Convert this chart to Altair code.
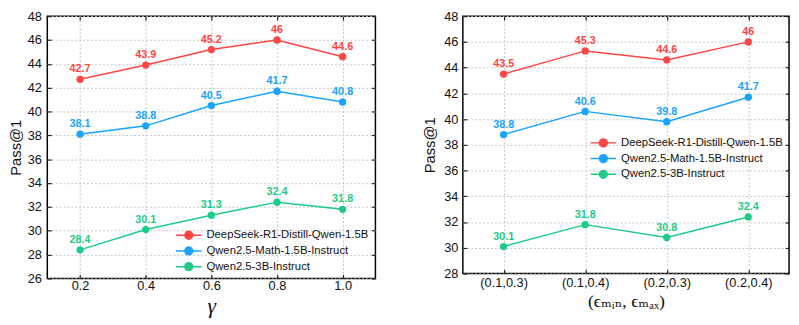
import altair as alt
import pandas as pd

# ---- data ----
models = ["DeepSeek-R1-Distill-Qwen-1.5B", "Qwen2.5-Math-1.5B-Instruct", "Qwen2.5-3B-Instruct"]
colors = ["#FF4545", "#1AA3FF", "#1FCB88"]

gamma = [0.2, 0.4, 0.6, 0.8, 1.0]
ds_gamma = [42.7, 43.9, 45.2, 46.0, 44.6]
math_gamma = [38.1, 38.8, 40.5, 41.7, 40.8]
q3b_gamma = [28.4, 30.1, 31.3, 32.4, 31.8]

eps = ["(0.1,0.3)", "(0.1,0.4)", "(0.2,0.3)", "(0.2,0.4)"]
ds_eps = [43.5, 45.3, 44.6, 46.0]
math_eps = [38.8, 40.6, 39.8, 41.7]
q3b_eps = [30.1, 31.8, 30.8, 32.4]

left_ticks = list(range(26, 49, 2))
right_ticks = list(range(28, 49, 2))


def build(xs, series, xname):
    rows = []
    for m, vals in zip(models, series):
        for xv, v in zip(xs, vals):
            rows.append({xname: xv, "value": v, "model": m, "label": f"{v:g}"})
    return pd.DataFrame(rows)


df_g = build(gamma, [ds_gamma, math_gamma, q3b_gamma], "x")
df_e = build(eps, [ds_eps, math_eps, q3b_eps], "x")

FONT = "Liberation Sans"
cscale = alt.Scale(domain=models, range=colors)
SYM = "M-1.625,0L1.625,0M-0.5,0A0.5,0.5,0,1,0,0.5,0A0.5,0.5,0,1,0,-0.5,0Z"
GRID = dict(grid=True, gridColor="#c4c4c4", gridDash=[2, 2], gridWidth=1)
TICK = dict(domain=False, tickSize=4, tickColor="#222", tickWidth=1.2, offset=-4)


def legend(lx, ly):
    return alt.Legend(
        orient="none", legendX=lx, legendY=ly, title=None,
        symbolType=SYM, symbolSize=256, symbolStrokeWidth=1.5,
        labelFont=FONT, labelFontSize=11.5, labelColor="#111", labelLimit=0,
        labelOffset=9, rowPadding=0, padding=0,
    )


def panel(df, xenc, xmirror, ydomain, yticks, w, h, lx, ly, ytitle_pad, ylabel_pad):
    ysc = alt.Scale(domain=ydomain, nice=False, zero=False)
    yax = alt.Axis(
        values=yticks, title="Pass@1", titleFont=FONT, titleFontSize=15,
        titleFontWeight="normal", titleColor="#111", titlePadding=ytitle_pad,
        labelFont=FONT, labelFontSize=13, labelColor="#111", labelPadding=ylabel_pad,
        **GRID, **TICK,
    )
    y = alt.Y("value:Q", scale=ysc, axis=yax)
    base = alt.Chart(df)
    col = alt.Color("model:N", scale=cscale, legend=legend(lx, ly))
    line = base.mark_line(strokeWidth=1.5).encode(x=xenc, y=y, color=col)
    pts = base.mark_point(filled=True, size=55, opacity=1, strokeWidth=1).encode(
        x=xenc, y=y, color=col)
    txt = base.mark_text(dy=-7, baseline="alphabetic", fontWeight="bold",
                         fontSize=11, font=FONT).encode(
        x=xenc, y=y, text="label:N", color=col)
    mirror = base.mark_line(opacity=0).encode(
        x=xmirror,
        y=alt.Y("value:Q", scale=alt.Scale(domain=ydomain, nice=False, zero=False),
                axis=alt.Axis(orient="right", values=yticks, labels=False, title=None,
                              grid=False, **TICK)),
        detail="model:N",
    )
    main = alt.layer(line, pts, txt)
    return (alt.layer(main, mirror)
            .resolve_scale(x="independent", y="independent")
            .properties(width=w, height=h))


xg_scale = dict(domain=[0.1, 1.1], nice=False, zero=False)
xg = alt.X(
    "x:Q", scale=alt.Scale(**xg_scale),
    axis=alt.Axis(
        values=gamma, format=".1f", title="γ", titleFont="Liberation Serif",
        titleFontStyle="italic", titleFontSize=22, titleFontWeight="normal",
        titleColor="#111", titlePadding=4,
        labelFont=FONT, labelFontSize=13, labelColor="#111", labelPadding=1,
        **GRID, **TICK,
    ),
)
xg_m = alt.X("x:Q", scale=alt.Scale(**xg_scale),
             axis=alt.Axis(orient="top", values=gamma, labels=False, title=None,
                           grid=False, **TICK))

xe = alt.X(
    "x:N", sort=eps, scale=alt.Scale(type="point", padding=0.5),
    axis=alt.Axis(
        labelAngle=0, title="(ϵₘᵢₙ, ϵₘₐₓ)", titleFont="Liberation Serif, DejaVu Serif",
        titleFontSize=18, titleFontWeight="normal", titleColor="#111", titlePadding=4,
        labelFont=FONT, labelFontSize=13, labelColor="#111", labelPadding=3,
        **GRID, **TICK,
    ),
)
xe_m = alt.X("x:N", sort=eps, scale=alt.Scale(type="point", padding=0.5),
             axis=alt.Axis(orient="top", labels=False, title=None, grid=False, **TICK))

left = panel(df_g, xg, xg_m, [26, 48], left_ticks, 334, 267, 135, 214, 3.5, 6)
right = panel(df_e, xe, xe_m, [28, 48], right_ticks, 332, 262, 134, 120, 6, 5)

chart = (
    alt.hconcat(left, right, spacing=45)
    .resolve_legend(color="independent")
    .properties(padding={"left": 0, "top": -1.5, "right": 0, "bottom": 0}, background="white")
    .configure_view(stroke="black", strokeWidth=1.5)
)

chart.save("out.html", embed_options={"renderer": "svg", "actions": False})
